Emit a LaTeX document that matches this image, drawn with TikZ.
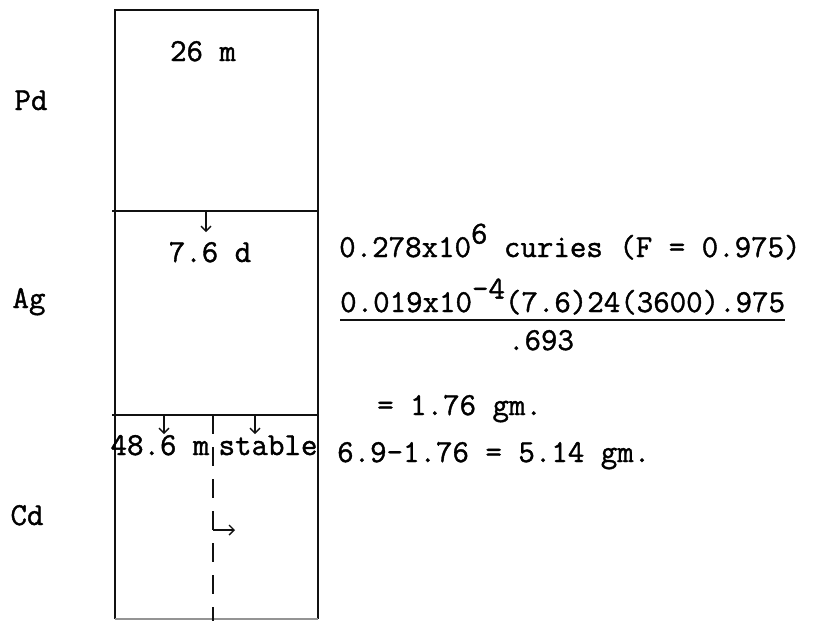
\documentclass[tikz,border=0pt]{standalone}
\usepackage{fontspec}
\usepackage{tikz}
\usetikzlibrary{arrows.meta}
\usepackage{xcolor}
\definecolor{Ink}{HTML}{111111}
\newfontfamily\typew{Latin Modern Mono}[FakeBold=1.2]
\newcommand{\upr}[1]{\raisebox{0.42em}{#1}}

\begin{document}
\begin{tikzpicture}[x=1pt,y=-1pt,inner sep=0pt,
    font=\typew\fontsize{32}{38}\selectfont,
    box/.style={draw=Ink,line width=2.6pt},
    decay/.style={draw=Ink,line width=1.4pt,-{Straight Barb[length=5pt,width=10pt]}},
    split/.style={draw=Ink,line width=2.4pt,dash pattern=on 19pt off 13pt}]
    \useasboundingbox (0,0) rectangle (837,621);
    % the column
    \draw[box] (115,619) -- (115,10) -- (318,10) -- (318,619);
    \draw[draw=Ink!45,line width=1.2pt] (115,619) -- (318,619);
    \draw[box] (112,211) -- (318,211);
    \draw[box] (112,415) -- (318,415);
    % elements
    \node[anchor=base] (pd) at (31,110) {Pd};
    \node[anchor=base] (ag) at (29,308) {Ag};
    \node[anchor=base] (cd) at (27,525) {Cd};
    % half lives
    \node[anchor=base] (pdlife) at (203,61) {26 m};
    \node[anchor=base] (aglife) at (210,262) {7.6 d};
    \node[anchor=base] (cdlife) at (160,455) {48.6 m};
    \node[anchor=base] (cdstab) at (268,455) {stable};
    \coordinate (agin) at (206,211);
    \coordinate (agend) at (206,232);
    \coordinate (cdin) at (164,415);
    \coordinate (cdend) at (164,434);
    \coordinate (stin) at (255,415);
    \coordinate (stend) at (255,434);
    \coordinate (splittop) at (213,415);
    \coordinate (splitbot) at (213,621);
    \coordinate (sidein) at (213,530);
    \coordinate (sideend) at (235,530);
    \draw[decay] (agin) -- (agend);
    \draw[decay] (cdin) -- (cdend);
    \draw[decay] (stin) -- (stend);
    \draw[split] (splittop) -- (splitbot);
    \draw[decay] (sidein) -- (sideend);
    % working
    \node[anchor=base west] (curies) at (339,257) {0.278x10\upr{6} curies (F = 0.975)};
    \node[anchor=base west] (num) at (340,312) {0.019x10\upr{-4}(7.6)24(3600).975};
    \draw[draw=Ink,line width=1.8pt] ([yshift=-8pt]num.base west) -- ([yshift=-8pt]num.base east);
    \node[anchor=base] (den) at (541,350) {.693};
    \node[anchor=base west] (mass) at (377,415) {= 1.76 gm.};
    \node[anchor=base west] (rest) at (337,462) {6.9-1.76 = 5.14 gm.};
\end{tikzpicture}
\end{document}
